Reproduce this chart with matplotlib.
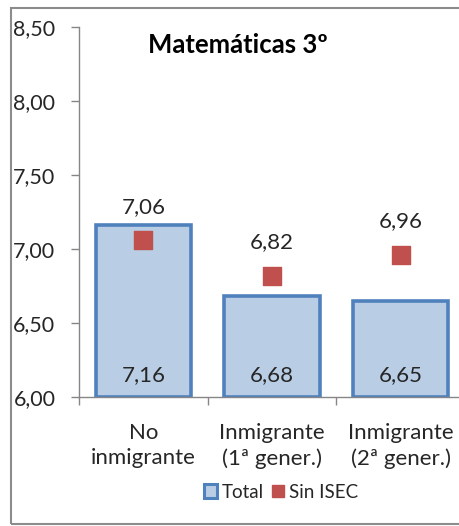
import matplotlib
matplotlib.use("Agg")
import matplotlib.pyplot as plt
from matplotlib.patches import Patch, Rectangle
from matplotlib.lines import Line2D

# datos
categories = ["No\ninmigrante", "Inmigrante\n(1ª gener.)", "Inmigrante\n(2ª gener.)"]
total = [7.16, 6.68, 6.65]
sin_isec = [7.06, 6.82, 6.96]
yticks = [6.0, 6.5, 7.0, 7.5, 8.0, 8.5]

BAR_FILL = "#B9CDE5"
BAR_EDGE = "#4F81BD"
MARK = "#C0504D"
AXIS = "#868686"
TEXT = "#262626"


def coma(v):
    return f"{v:.2f}".replace(".", ",")


plt.rcParams["font.family"] = ["Lato", "DejaVu Sans"]

W, H = 459, 526
fig = plt.figure(figsize=(W / 100, H / 100), dpi=100)

# marco del gráfico
fig.patches.append(Rectangle((11 / W, 2 / H), 1.2, (H - 10) / H,
                             transform=fig.transFigure, fill=False,
                             edgecolor="#8c8c8c", linewidth=1.5))

ax = fig.add_axes([79 / W, (H - 397) / H, 386 / W, 370 / H])

x = range(len(categories))
ax.bar(x, [t - 6.0 for t in total], bottom=6.0, width=0.74,
       color=BAR_FILL, edgecolor=BAR_EDGE, linewidth=2.6, zorder=2)
ax.scatter(x, sin_isec, marker="s", s=150, color=MARK, zorder=3)

for i in x:
    ax.annotate(coma(total[i]), xy=(i, 6.0), xytext=(0, 16),
                textcoords="offset points", ha="center", va="center",
                fontsize=16, color=TEXT)
    ax.annotate(coma(sin_isec[i]), xy=(i, sin_isec[i]), xytext=(0, 24),
                textcoords="offset points", ha="center", va="center",
                fontsize=16, color=TEXT)

ax.set_xlim(-0.5, len(categories) - 0.5)
ax.set_ylim(6.0, 8.5)
ax.set_yticks(yticks)
ax.set_yticklabels([coma(v) for v in yticks], fontsize=15.5, color=TEXT)
ax.set_xticks(list(x))
ax.set_xticklabels(categories, fontsize=16, color=TEXT, linespacing=1.3)
ax.set_xticks([i - 0.5 for i in range(len(categories) + 1)], minor=True)
ax.tick_params(axis="x", which="major", length=0, pad=19)
ax.tick_params(axis="x", which="minor", length=6, color=AXIS, width=1)
ax.tick_params(axis="y", length=6, color=AXIS, width=1, pad=11)
for side in ["top", "right"]:
    ax.spines[side].set_visible(False)
for side in ["left", "bottom"]:
    ax.spines[side].set_color(AXIS)
    ax.spines[side].set_linewidth(1)

fig.text(238 / W, 1 - 45 / H, "Matemáticas 3º", ha="center", va="center",
         fontsize=18.5, fontweight="bold", color="black")

handles = [
    Patch(facecolor=BAR_FILL, edgecolor=BAR_EDGE, linewidth=2.2, label="Total"),
    Line2D([], [], marker="s", linestyle="none", markersize=9,
           color=MARK, label="Sin ISEC"),
]
fig.legend(handles=handles, loc="center", bbox_to_anchor=(281 / W, 1 - 492 / H),
           ncol=2, frameon=False, fontsize=13.5, handlelength=0.7,
           handleheight=0.7, handletextpad=0.25, columnspacing=0.4,
           labelcolor=TEXT)

fig.savefig("out.png", dpi=100)
